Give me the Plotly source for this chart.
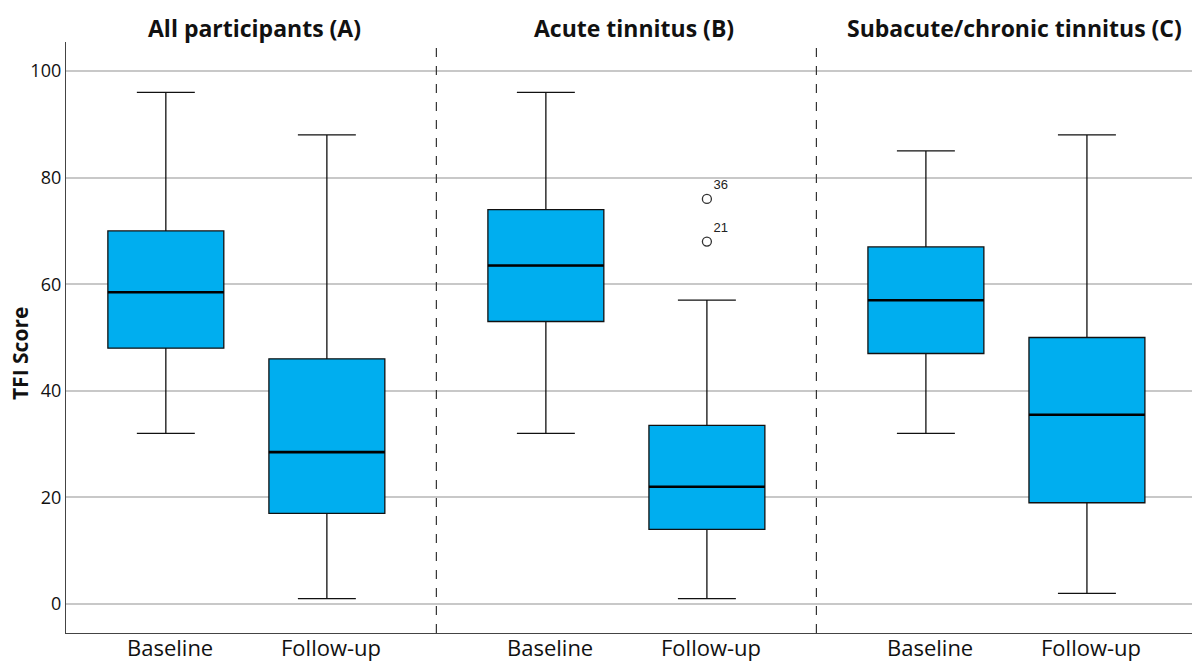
import plotly.graph_objects as go

# ---- data ----
groups = ["All participants (A)", "Acute tinnitus (B)", "Subacute/chronic tinnitus (C)"]
timepoints = ["Baseline", "Follow-up"]
lower_fence = [32, 1, 32, 1, 32, 2]
q1_vals = [48, 17, 53, 14, 47, 19]
median_vals = [58.5, 28.5, 63.5, 22, 57, 35.5]
q3_vals = [70, 46, 74, 33.5, 67, 50]
upper_fence = [96, 88, 96, 57, 85, 88]
outlier_group = [1, 1]          # index of group (Acute)
outlier_time = [1, 1]           # Follow-up
outlier_vals = [76, 68]
outlier_ids = ["36", "21"]
y_ticks = [0, 20, 40, 60, 80, 100]

# ---- layout helpers ----
group_spacing = 4.72
offset = 1.0
box_w = 1.44
group_centers = [i * group_spacing for i in range(len(groups))]
positions = [c + (-offset if t == 0 else offset) for c in group_centers for t in range(2)]
tick_text = [tp for _ in groups for tp in timepoints]

fill = "#00AEEF"

fig = go.Figure()
fig.add_trace(go.Box(
    x=positions, q1=q1_vals, median=median_vals, q3=q3_vals,
    lowerfence=lower_fence, upperfence=upper_fence,
    boxpoints=False, fillcolor=fill, line=dict(color="#111111", width=1.3),
    width=box_w, whiskerwidth=0.5, showlegend=False, hoverinfo="skip",
))
# thick median lines
for p, m in zip(positions, median_vals):
    fig.add_trace(go.Scatter(
        x=[p - box_w / 2, p + box_w / 2], y=[m, m], mode="lines",
        line=dict(color="#000000", width=2.6), showlegend=False, hoverinfo="skip",
    ))
# outliers
ox = [group_centers[g] + (-offset if t == 0 else offset) for g, t in zip(outlier_group, outlier_time)]
fig.add_trace(go.Scatter(
    x=ox, y=outlier_vals, mode="markers+text", text=outlier_ids,
    textposition="top right",
    textfont=dict(family="Liberation Sans, Arial", size=13, color="#222222"),
    marker=dict(symbol="circle-open", size=9, color="#333333", line=dict(width=1.3)),
    showlegend=False, hoverinfo="skip",
))

# dividers
dividers = [(group_centers[i] + group_centers[i + 1]) / 2 for i in range(len(groups) - 1)]
shapes = [dict(type="line", xref="x", yref="paper", x0=d, x1=d, y0=0, y1=1,
               line=dict(color="#333333", width=1.2, dash="dash")) for d in dividers]

annotations = [dict(x=c + 0.1, y=1.0, xref="x", yref="paper", yshift=14, text=f"<b>{g}</b>",
                    showarrow=False, font=dict(family="Open Sans", size=23, color="#111111"),
                    xanchor="center", yanchor="middle") for c, g in zip(group_centers, groups)]
annotations.append(dict(x=0, y=0.472, xref="paper", yref="paper", xshift=-46,
                        text="<b>TFI Score</b>", textangle=-90, showarrow=False,
                        font=dict(family="Open Sans", size=21, color="#111111"),
                        xanchor="center", yanchor="middle"))
# category labels under the axis
for p, t in zip(positions, tick_text):
    annotations.append(dict(x=p + 0.05, y=0, xref="x", yref="paper", yshift=-30, text=t,
                            showarrow=False, font=dict(family="Open Sans", size=22, color="#111111"),
                            xanchor="center", yanchor="bottom", borderpad=0))

x_left = group_centers[0] - 2.24
x_right = group_centers[-1] + 2.305

fig.update_layout(
    width=1192, height=663,
    margin=dict(l=66, r=0, t=42, b=30, autoexpand=False),
    plot_bgcolor="white", paper_bgcolor="white",
    shapes=shapes, annotations=annotations,
    font=dict(family="Open Sans", color="#111111"),
    xaxis=dict(range=[x_left, x_right], tickvals=positions, showticklabels=False, automargin=False,
               showgrid=False, zeroline=False, showline=True, linecolor="#444444", linewidth=1.3,
               ticks=""),
    yaxis=dict(range=[-5.44, 105.44], tickvals=y_ticks, showgrid=True, gridcolor="#c8c8c8",
               gridwidth=1.5, zeroline=False, showline=True, linecolor="#444444", linewidth=1.3,
               automargin=False, ticks="", tickfont=dict(size=18, color="#111111")),
)

fig.write_html("out.html", config={"displayModeBar": False},
               post_script="document.body.style.margin='0';document.body.style.overflow='hidden';")
